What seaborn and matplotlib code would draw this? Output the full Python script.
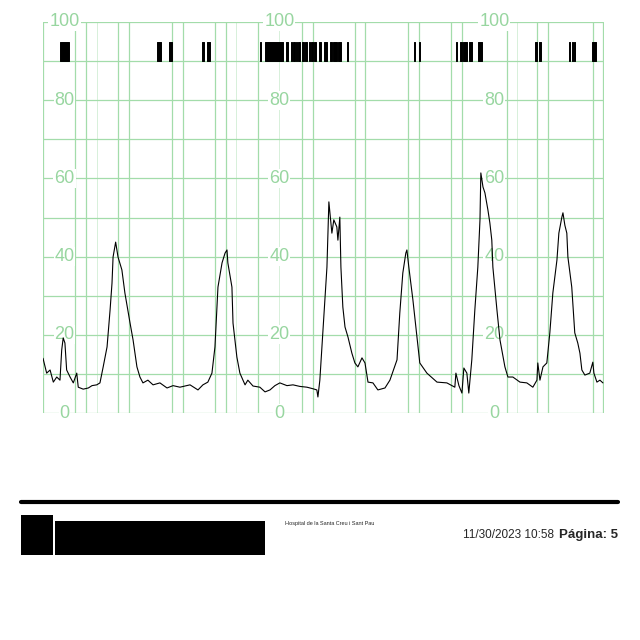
import matplotlib
matplotlib.use("Agg")
import matplotlib.pyplot as plt
import seaborn as sns
import pandas as pd
from matplotlib.patches import Rectangle
from matplotlib.lines import Line2D

# uterine activity trace (minutes, mmHg)
t_min = [0.00, 0.17, 0.33, 0.48, 0.64, 0.79, 0.87, 0.94, 1.02, 1.10, 1.26, 1.41, 1.57, 1.64,
         1.87, 2.11, 2.28, 2.50, 2.65, 2.80, 2.98, 3.12, 3.21, 3.26, 3.38, 3.49, 3.67, 3.81,
         4.05, 4.19, 4.37, 4.51, 4.65, 4.88, 5.12, 5.44, 5.77, 6.05, 6.37, 6.84, 7.21, 7.44,
         7.67, 7.86, 8.00, 8.14, 8.33, 8.47, 8.56, 8.60, 8.79, 8.84, 9.02, 9.16, 9.40, 9.53,
         9.77, 10.09, 10.33, 10.56, 10.79, 11.02, 11.35, 11.63, 11.95, 12.28, 12.56, 12.74,
         12.79, 12.88, 13.02, 13.21, 13.30, 13.44, 13.53, 13.67, 13.72, 13.81, 13.86, 13.95,
         14.05, 14.19, 14.37, 14.51, 14.65, 14.84, 14.98, 15.12, 15.35, 15.58, 15.91, 16.14,
         16.47, 16.60, 16.74, 16.88, 16.93, 17.02, 17.21, 17.40, 17.53, 17.86, 18.33, 18.79,
         19.16, 19.21, 19.35, 19.49, 19.58, 19.72, 19.81, 19.95, 20.09, 20.23, 20.33, 20.37,
         20.47, 20.56, 20.70, 20.79, 20.88, 20.93, 21.12, 21.26, 21.49, 21.63, 21.86, 22.19,
         22.51, 22.79, 22.98, 23.02, 23.12, 23.26, 23.44, 23.58, 23.72, 23.91, 24.00, 24.14,
         24.19, 24.28, 24.37, 24.42, 24.60, 24.74, 24.88, 24.98, 25.07, 25.21, 25.44, 25.58,
         25.63, 25.77, 25.91, 26.05]
toco = [14.0, 10.2, 11.0, 7.9, 9.2, 8.4, 16.1, 19.2, 17.9, 11.0, 9.2, 7.7, 10.2, 6.6,
        6.1, 6.4, 7.0, 7.2, 7.7, 11.8, 16.9, 26.3, 33.2, 39.9, 43.7, 39.9, 36.6, 30.7,
        23.0, 18.7, 11.8, 9.2, 7.7, 8.4, 7.2, 7.7, 6.4, 7.0, 6.6, 7.2, 5.9, 7.2,
        7.9, 10.2, 16.9, 32.2, 38.4, 40.9, 41.7, 38.4, 32.2, 23.0, 14.3, 10.2, 7.2, 8.4,
        6.9, 6.6, 5.4, 5.9, 7.0, 7.7, 7.0, 7.2, 6.8, 6.6, 6.2, 5.9,
        4.1, 8.4, 20.5, 37.3, 54.0, 46.0, 49.4, 47.6, 44.2, 50.1, 37.3, 27.1,
        22.0, 19.4, 15.3, 12.8, 11.8, 14.1, 12.8, 7.9, 7.7, 5.9, 6.4, 8.4,
        13.6, 25.6, 35.8, 40.9, 41.7, 37.3, 28.9, 19.4, 12.8, 10.2, 7.9, 7.7,
        6.6, 10.2, 7.0, 5.1, 11.5, 10.2, 5.1, 13.6, 26.3, 37.3, 49.4, 61.4,
        57.8, 56.3, 51.9, 48.6, 44.2, 37.3, 26.3, 18.7, 11.8, 9.2, 9.2, 7.9,
        7.7, 6.6, 8.4, 12.8, 8.4, 11.8, 12.8, 20.5, 30.7, 39.1, 46.0, 50.1,
        51.2, 48.0, 46.0, 39.9, 32.2, 20.5, 17.9, 15.3, 11.0, 9.7, 10.2, 13.0,
        10.2, 7.9, 8.4, 7.7]

# fetal movement marks (start, end) in minutes
move_start = [0.79, 5.30, 5.86, 7.40, 7.63, 10.09, 10.33, 11.30, 11.53, 11.65, 11.77, 11.88,
              12.05, 12.19, 12.37, 12.49, 12.60, 12.84, 13.07, 13.33, 13.51, 13.72, 14.14,
              17.26, 17.47, 19.21, 19.40, 19.53, 19.65, 19.81, 20.23, 22.91, 23.07, 24.49,
              24.60, 24.70, 25.56]
move_end = [1.21, 5.49, 6.00, 7.47, 7.77, 10.14, 11.16, 11.40, 11.60, 11.72, 11.84, 11.95,
            12.14, 12.28, 12.44, 12.56, 12.70, 12.93, 13.21, 13.44, 13.67, 13.86, 14.17,
            17.33, 17.56, 19.28, 19.49, 19.63, 19.74, 19.98, 20.42, 23.00, 23.16, 24.53,
            24.67, 24.74, 25.72]

grid_x = [0, 1.5, 2, 3.5, 4, 6, 6.5, 8, 8.5, 10, 12.05, 12.56, 14.5, 15, 17, 17.5,
          19, 19.5, 21.6, 23, 23.5, 25.6, 26.05]
grid_x_light = [2.5, 9.0, 11.0, 22.05]
grid_y = [0, 10, 20, 30, 40, 50, 60, 70, 80, 90, 100]
label_cols = [1.0, 11.0, 21.0]
label_vals = [0, 20, 40, 60, 80, 100]

hospital = "Hospital de la Santa Creu i Sant Pau"
stamp = "11/30/2023 10:58"
page = "Página: 5"

GREEN = "#a3dcaa"
LABEL = "#98d6a0"
FONT = ["Liberation Sans", "DejaVu Sans"]

sns.set_style("white")
fig = plt.figure(figsize=(6.4, 6.4), dpi=100)
ax = fig.add_axes([43 / 640, 1 - 413 / 640, 561 / 640, 391 / 640])

for y in grid_y:
    ax.axhline(y, color=GREEN, lw=0.9, zorder=1)
for x in grid_x:
    ax.axvline(x, color=GREEN, lw=0.9, zorder=1)
for x in grid_x_light:
    ax.axvline(x, color=GREEN, lw=0.6, alpha=0.5, zorder=1)

for c in label_cols:
    for v in label_vals:
        ax.text(c, v, str(v), ha="center", va="center", color=LABEL, fontsize=13,
                family=FONT, zorder=2, clip_on=False,
                bbox=dict(facecolor="white", edgecolor="none", pad=0.6))

ax.broken_barh([(s, e - s) for s, e in zip(move_start, move_end)], (90, 5),
               facecolors="black", edgecolors="black", linewidth=0.7, zorder=3)

df = pd.DataFrame({"t": t_min, "toco": toco})
sns.lineplot(data=df, x="t", y="toco", ax=ax, color="black", lw=0.8, zorder=4)

ax.set_xlim(0, 26.1)
ax.set_ylim(0, 100)
ax.set_xlabel("")
ax.set_ylabel("")
ax.set_xticks([])
ax.set_yticks([])
for s in ax.spines.values():
    s.set_visible(False)

# footer
fig.add_artist(Line2D([21 / 640, 618 / 640], [1 - 502 / 640] * 2, color="black", lw=3))
fig.add_artist(Rectangle((21 / 640, 1 - 555 / 640), 32 / 640, 40 / 640,
                         facecolor="black", edgecolor="none"))
fig.add_artist(Rectangle((55 / 640, 1 - 555 / 640), 210 / 640, 34 / 640,
                         facecolor="black", edgecolor="none"))
fig.text(285 / 640, 1 - 523 / 640, hospital, fontsize=4, va="center", ha="left", family=FONT)
page_txt = fig.text(618 / 640, 1 - 535 / 640, page, fontsize=9.5, va="center", ha="right",
                    fontweight="bold", family=FONT)
fig.canvas.draw()
bb = page_txt.get_window_extent()
fig.text((bb.x0 - 5) / 640, 1 - 535 / 640, stamp, fontsize=8.5, va="center", ha="right",
         family=FONT)

fig.savefig("out.png", dpi=100)
